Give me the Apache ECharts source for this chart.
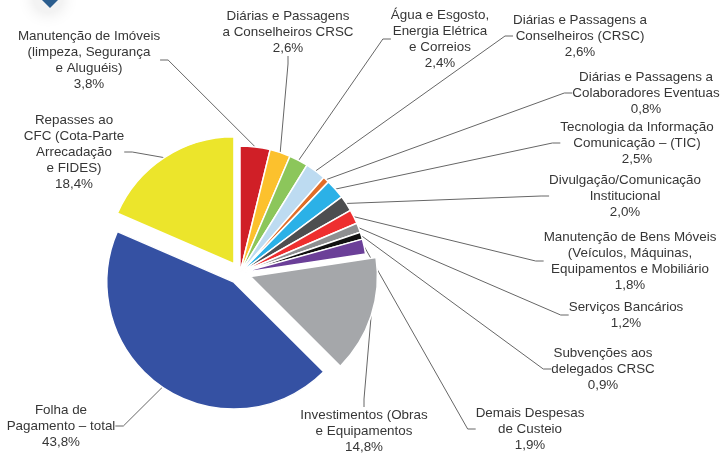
<!DOCTYPE html>
<html>
<head>
<meta charset="utf-8">
<script src="https://cdn.jsdelivr.net/npm/echarts@6/dist/echarts.min.js"></script>
<style>html,body{margin:0;padding:0;background:#fff;}#chart{width:721px;height:456px;}</style>
</head>
<body>
<div id="chart"></div>
<script>
const categories = [
  'Manutenção de Imóveis\n(limpeza, Segurança\ne Aluguéis)',
  'Diárias e Passagens\na Conselheiros CRSC',
  'Água e Esgosto,\nEnergia Elétrica\ne Correios',
  'Diárias e Passagens a\nConselheiros (CRSC)',
  'Diárias e Passagens a\nColaboradores Eventuas',
  'Tecnologia da Informação\nComunicação – (TIC)',
  'Divulgação/Comunicação\nInstitucional',
  'Manutenção de Bens Móveis\n(Veículos, Máquinas,\nEquipamentos e Mobiliário',
  'Serviços Bancários',
  'Subvenções aos\ndelegados CRSC',
  'Demais Despesas\nde Custeio',
  'Investimentos (Obras\ne Equipamentos',
  'Folha de\nPagamento – total',
  'Repasses ao\nCFC (Cota-Parte\nArrecadação\ne FIDES)'
];
const values = [3.8, 2.6, 2.4, 2.6, 0.8, 2.5, 2.0, 1.8, 1.2, 0.9, 1.9, 14.8, 43.8, 18.4];
const exploded = [false, false, false, false, false, false, false, false, false, false, false, true, true, true];
const colors = ['#d01f27', '#fcc12d', '#8cc65b', '#bddbf1', '#e06d28', '#2bb1e7', '#4d4e50', '#ee2e2f', '#8e8f91', '#111111', '#6b3f98', '#a5a7aa', '#3551a3', '#ece52b'];
// label block anchors (center x, top y)
const labelAnchors = [
  [89, 28], [288, 8], [440, 7], [580, 12], [646, 69], [637, 119], [625, 172],
  [630, 229], [626, 299], [603, 345], [530, 405], [364, 407], [61, 402], [74, 112]
];

const PIE_CENTER = [240, 273];
const PIE_R = 127;
const OFFSET = 11;

const labelBase = {
  position: 'outside',
  formatter: p => p.name + '\n' + p.value.toFixed(1).replace('.', ',') + '%',
  fontFamily: 'Liberation Sans, Arial, sans-serif',
  fontSize: 13.4,
  lineHeight: 16,
  color: '#363636',
  align: 'center'
};
const lineBase = {length: 10, length2: 8, lineStyle: {color: '#666666', width: 1}};
const layoutFn = function (params) {
  const a = labelAnchors[params.dataIndex];
  return {x: a[0], y: a[1], align: 'center', verticalAlign: 'top'};
};

const chart = echarts.init(document.getElementById('chart'), null, {renderer: 'canvas'});

// real slices; exploded ones get their labels from the overlay series
const mainData = values.map((v, i) => ({
  name: categories[i],
  value: v,
  selected: exploded[i],
  itemStyle: {color: colors[i]},
  label: {show: !exploded[i]},
  labelLine: {show: !exploded[i]}
}));
// transparent overlay whose outer edge matches exploded slices, carrying their labels
const overlayData = values.map((v, i) => ({
  name: categories[i],
  value: v,
  itemStyle: {color: 'rgba(0,0,0,0)', borderWidth: 0},
  label: {show: exploded[i]},
  labelLine: {show: exploded[i]}
}));

chart.setOption({
  animation: false,
  graphic: [
    {type: 'circle', shape: {cx: 48, cy: -2, r: 14}, style: {fill: '#f3f3f3', shadowBlur: 18, shadowColor: 'rgba(0,0,0,0.14)'}},
    {type: 'polygon', shape: {points: [[42, 0], [58, 0], [50, 8]]}, style: {fill: '#2b5d8e'}}
  ],
  series: [{
    type: 'pie',
    center: PIE_CENTER,
    radius: [0, PIE_R],
    startAngle: 90,
    clockwise: true,
    selectedMode: 'multiple',
    selectedOffset: OFFSET,
    avoidLabelOverlap: false,
    emphasis: {disabled: true},
    itemStyle: {borderColor: '#ffffff', borderWidth: 1.5},
    label: labelBase,
    labelLine: lineBase,
    labelLayout: layoutFn,
    data: mainData
  }, {
    type: 'pie',
    silent: true,
    center: PIE_CENTER,
    radius: [0, PIE_R + OFFSET],
    startAngle: 90,
    clockwise: true,
    selectedMode: false,
    avoidLabelOverlap: false,
    emphasis: {disabled: true},
    label: labelBase,
    labelLine: lineBase,
    labelLayout: layoutFn,
    data: overlayData
  }]
});
</script>
</body>
</html>
